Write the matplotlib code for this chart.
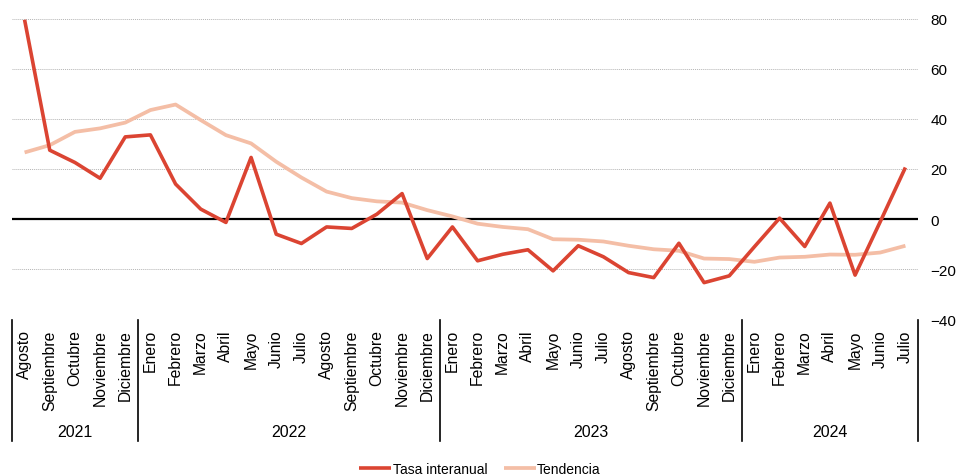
import matplotlib
matplotlib.use("Agg")
import matplotlib.pyplot as plt
import matplotlib.transforms as mtransforms

plt.rcParams['font.family'] = ['Liberation Sans', 'DejaVu Sans']

meses = ["Agosto", "Septiembre", "Octubre", "Noviembre", "Diciembre",
         "Enero", "Febrero", "Marzo", "Abril", "Mayo", "Junio", "Julio",
         "Agosto", "Septiembre", "Octubre", "Noviembre", "Diciembre",
         "Enero", "Febrero", "Marzo", "Abril", "Mayo", "Junio", "Julio",
         "Agosto", "Septiembre", "Octubre", "Noviembre", "Diciembre",
         "Enero", "Febrero", "Marzo", "Abril", "Mayo", "Junio", "Julio"]
anios = ["2021", "2022", "2023", "2024"]
meses_por_anio = [5, 12, 12, 7]

tasa = [79.5, 27.5, 22.6, 16.3, 32.8, 33.6, 14.0, 4.0, -1.3, 24.6, -6.0, -9.7,
        -3.1, -3.7, 2.0, 10.2, -15.7, -3.1, -16.6, -14.0, -12.2, -20.6, -10.6, -15.0,
        -21.3, -23.3, -9.6, -25.3, -22.6, -11.0, 0.4, -10.9, 6.4, -22.3, -1.0, 20.6]
tendencia = [26.6, 29.5, 34.8, 36.2, 38.5, 43.5, 45.7, 39.5, 33.5, 30.2, 22.9, 16.6,
             11.0, 8.4, 7.1, 6.6, 3.6, 1.1, -1.8, -3.1, -4.0, -8.0, -8.2, -8.9,
             -10.6, -12.0, -12.6, -15.7, -15.9, -17.0, -15.3, -15.0, -14.1, -14.2, -13.3, -10.6]

W, H = 957, 477
fig = plt.figure(figsize=(W / 100, H / 100), dpi=100)
ax = fig.add_axes([12 / W, 1 - 320.5 / H, (918 - 12) / W, 301 / H])

x = list(range(len(meses)))
ax.plot(x, tendencia, color="#F4BEA6", lw=2.7, label="Tendencia", solid_capstyle="butt", zorder=3)
ax.plot(x, tasa, color="#DB4432", lw=2.6, label="Tasa interanual", solid_capstyle="butt", zorder=4)

ax.set_xlim(-0.5, len(meses) - 0.5)
ax.set_ylim(-40, 80)
ax.set_yticks(range(-40, 81, 20))
ax.yaxis.tick_right()
ax.tick_params(axis="y", length=0, pad=9, labelsize=11)
ax.grid(axis="y", color="#b4b4b4", lw=0.7, ls=(0, (1, 1)))
ax.axhline(0, color="black", lw=1.6, zorder=2)
for s in ax.spines.values():
    s.set_visible(False)

ax.set_xticks(x)
ax.set_xticklabels(meses, rotation=90, fontsize=11.3)
ax.tick_params(axis="x", length=0, pad=7)

# separadores de anio y etiquetas
trans = mtransforms.blended_transform_factory(ax.transData, ax.transAxes)
bordes = [-0.5]
for n in meses_por_anio:
    bordes.append(bordes[-1] + n)
for b in bordes:
    ax.plot([b, b], [0, -0.403], color="black", lw=1.2, transform=trans, clip_on=False)
for i, a in enumerate(anios):
    ax.text((bordes[i] + bordes[i + 1]) / 2, -0.372, a, transform=trans,
            ha="center", va="center", fontsize=11.5)

h, l = ax.get_legend_handles_labels()
fig.legend(h[::-1], l[::-1], loc="center", bbox_to_anchor=(480 / W, 1 - 470 / H),
           ncol=2, frameon=False, fontsize=10, handlelength=2.3,
           handletextpad=0.1, columnspacing=1.2)

fig.savefig("out.png", dpi=100)
